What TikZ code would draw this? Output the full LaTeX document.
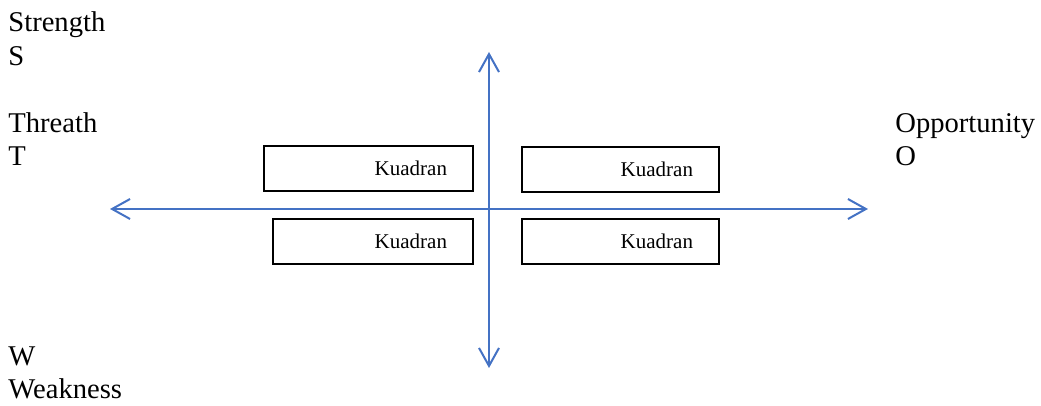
\documentclass[tikz,border=0pt]{standalone}
\usepackage{fontspec}
\setmainfont{Liberation Serif}
\usetikzlibrary{arrows.meta,positioning}
\definecolor{axisblue}{RGB}{68,114,196}

\begin{document}
\begin{tikzpicture}[x=0.5pt,y=-0.5pt]
  \tikzset{
    every node/.style={inner sep=0pt,font=\fontsize{14.3}{17}\selectfont},
    txt/.style={anchor=base west},
    kuadran/.style={draw,line width=1.4pt,minimum height=22.5pt,align=right,
      inner xsep=13pt,font=\fontsize{10.5}{12}\selectfont},
    axis/.style={draw=axisblue,line width=1pt,
      {Straight Barb[length=9pt,width=10pt]}-{Straight Barb[length=9pt,width=10pt]}}
  }
  \useasboundingbox (0,0) rectangle (1041,406);

  \node[txt] (strength) at (8,32) {Strength};
  \node[txt] (s) at (8,66) {S};
  \node[txt] (threath) at (8,133) {Threath};
  \node[txt] (t) at (8,166) {T};
  \node[txt] (opportunity) at (895,133) {Opportunity};
  \node[txt] (o) at (895,166) {O};
  \node[txt] (w) at (8,366) {W};
  \node[txt] (weakness) at (8,399) {Weakness};

  \node[kuadran,text width=78.5pt] (k1) at (368.5,168.5) {Kuadran};
  \node[kuadran,text width=72.5pt] (k2) at (620.5,169.5) {Kuadran};
  \node[kuadran,text width=74pt] (k3) at (373,241.5) {Kuadran};
  \node[kuadran,text width=72.5pt] (k4) at (620.5,241.5) {Kuadran};

  \coordinate (north) at (489,52);
  \coordinate (south) at (489,368);
  \coordinate (west) at (110,209);
  \coordinate (east) at (868,209);

  \draw[axis] (west) -- (east);
  \draw[axis] (south) -- (north);
\end{tikzpicture}
\end{document}
